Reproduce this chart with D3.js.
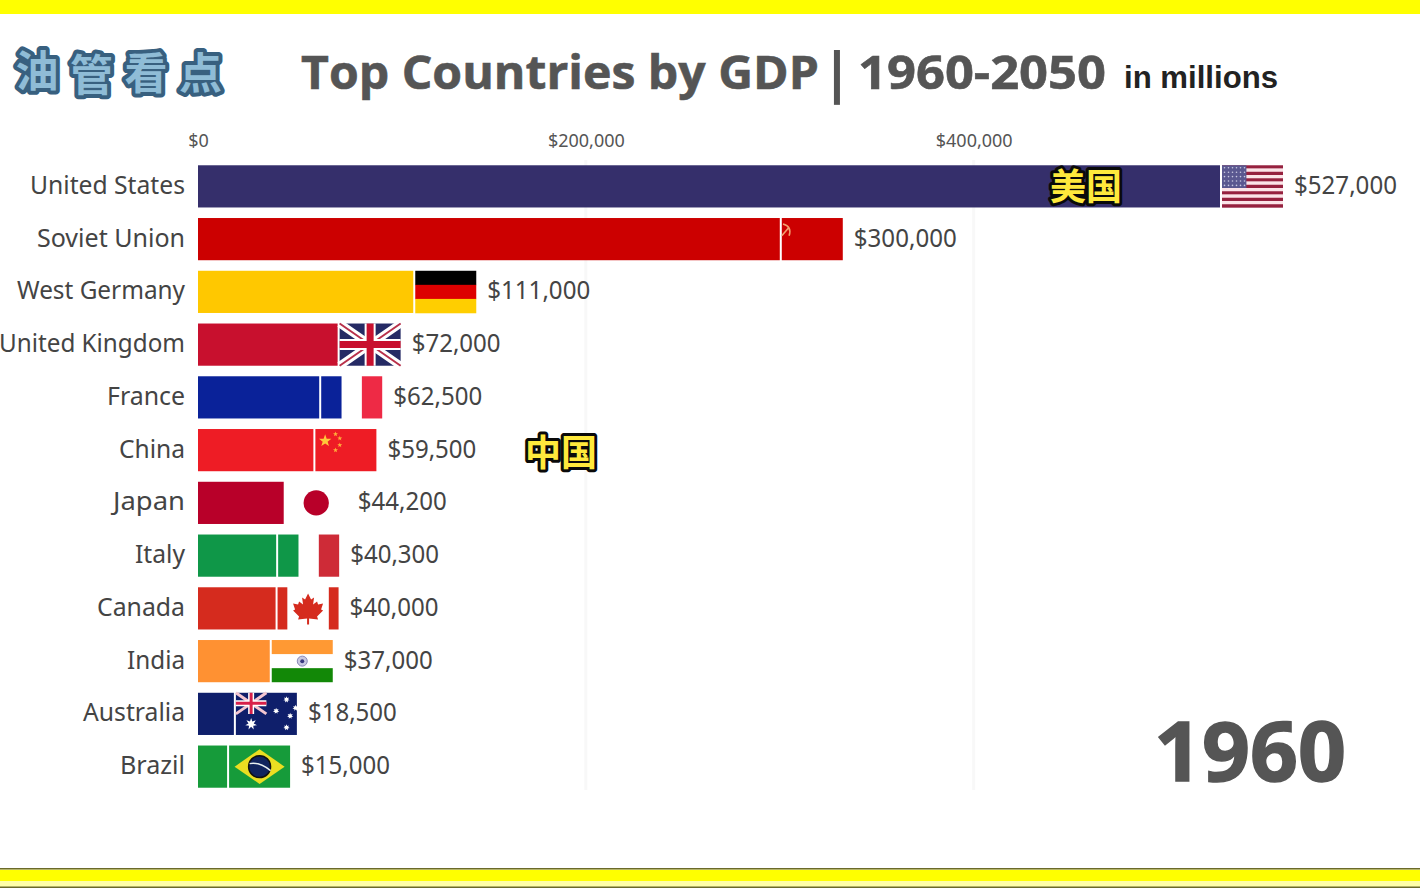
<!DOCTYPE html>
<html><head><meta charset="utf-8">
<script src="https://cdnjs.cloudflare.com/ajax/libs/d3/7.8.5/d3.min.js"></script>
<style>html,body{margin:0;padding:0;background:#fff;overflow:hidden}svg{display:block}</style>
</head><body><svg id="c" width="1420" height="888"></svg>
<script>
const countries = ["United States","Soviet Union","West Germany","United Kingdom","France","China","Japan","Italy","Canada","India","Australia","Brazil"];
const gdp = [527000,300000,111000,72000,62500,59500,44200,40300,40000,37000,18500,15000];
const barColors = ["#352f6b","#cc0000","#ffc800","#c8102e","#0a2299","#ee1c25","#b80029","#0f9748","#d52b1e","#ff9132","#0f1f6b","#169b3a"];
const flagKeys = ["us","su","de","uk","fr","cn","jp","it","ca","in","au","br"];
const tickValues = [0,200000,400000];
const titleParts = [{text:"Top Countries by GDP",x:301,w:518},{text:"1960-2050",x:858,w:248}];
const titleBar = "|";
const unitText = "in millions";
const yearText = "1960";
const watermark = ["油","管","看","点"];
const notes = [{text:"美国",x:1086,y:187},{text:"中国",x:561,y:453}];

const svg = d3.select("#c");
const x = d3.scaleLinear().domain([0,527000]).range([198,1220]);
const y = d3.scaleBand().domain(countries).range([160,793]).paddingInner(0.2).paddingOuter(0.1);
const FW = 61, GAP = 2;
const latin = "'Open Sans','Noto Sans',sans-serif";
const body = "'Noto Sans',sans-serif";

// frame bands
svg.append("rect").attr("x",0).attr("y",0).attr("width",1420).attr("height",14).attr("fill","#ffff00");
svg.append("rect").attr("x",0).attr("y",868).attr("width",1420).attr("height",20).attr("fill","#ffffa8");
svg.append("rect").attr("x",0).attr("y",870).attr("width",1420).attr("height",11).attr("fill","#ffff00");
svg.append("rect").attr("x",0).attr("y",868).attr("width",1420).attr("height",1.5).attr("fill","#6b6a2a");
svg.append("rect").attr("x",0).attr("y",886.5).attr("width",1420).attr("height",1.5).attr("fill","#6b6a2a");

// grid and axis
const grid = svg.append("g");
grid.selectAll("line").data(tickValues.slice(1)).join("line")
  .attr("x1",d=>x(d)).attr("x2",d=>x(d)).attr("y1",160).attr("y2",790)
  .attr("stroke","#f8f8f8").attr("stroke-width",3);
const axis = d3.axisTop(x).tickValues(tickValues).tickSize(0).tickFormat(d=>"$"+d3.format(",")(d));
const ax = svg.append("g").attr("transform","translate(0,150)").call(axis);
ax.select(".domain").remove();
ax.selectAll("text").attr("font-family",body).attr("font-size",18).attr("fill","#555").attr("dy",0);

// title
svg.append("g").selectAll("text").data(titleParts).join("text")
  .attr("x",d=>d.x).attr("y",89).attr("font-family",latin).attr("font-weight",700)
  .attr("font-size",47).attr("fill","#555").attr("stroke","#555").attr("stroke-width",0.6)
  .attr("textLength",d=>d.w).attr("lengthAdjust","spacingAndGlyphs").text(d=>d.text);
svg.append("text").attr("x",837).attr("y",92).attr("text-anchor","middle").attr("font-family",latin).attr("font-weight",700)
  .attr("font-size",56).attr("fill","#555").text(titleBar);
svg.append("text").attr("x",1124).attr("y",88).attr("font-family","'Liberation Sans',Arial,sans-serif").attr("font-weight",700)
  .attr("font-size",31).attr("fill","#222").attr("textLength",154).attr("lengthAdjust","spacingAndGlyphs").text(unitText);
svg.append("text").attr("x",1154).attr("y",781).attr("font-family",latin).attr("font-weight",700)
  .attr("font-size",82).attr("fill","#555").attr("stroke","#555").attr("stroke-width",1.5)
  .attr("textLength",192).attr("lengthAdjust","spacingAndGlyphs").text(yearText);

// watermark
svg.append("g").selectAll("text").data(watermark).join("text")
  .attr("x",(d,i)=>37+i*54.5).attr("y",(d,i)=>89+[-2,2,0,0][i]).attr("text-anchor","middle")
  .attr("font-family","'Noto Sans CJK SC'").attr("font-weight",700).attr("font-size",43)
  .attr("fill","#8fbcd6").attr("stroke","#38607f").attr("stroke-width",8).attr("stroke-linejoin","round")
  .attr("paint-order","stroke").text(d=>d);

// bars
const rows = svg.append("g").selectAll("g").data(countries).join("g")
  .attr("transform",c=>`translate(0,${y(c)})`);
const H = y.bandwidth();
rows.append("rect").attr("x",x(0)).attr("y",0).attr("height",H)
  .attr("width",(c,i)=>x(gdp[i])-x(0)).attr("fill",(c,i)=>barColors[i]);
rows.append("text").attr("x",185).attr("y",H/2-1).attr("dy","0.34em").attr("text-anchor","end")
  .attr("font-family",body).attr("font-size",25).attr("fill","#444")
  .attr("textLength",(c,i)=>[155,148,168,186,78,66,72,50,88,58,102,65][i]).attr("lengthAdjust","spacingAndGlyphs").text(c=>c);
rows.append("text").attr("x",(c,i)=>x(gdp[i])+GAP+FW+11).attr("y",H/2-1).attr("dy","0.34em")
  .attr("font-family",body).attr("font-size",25).attr("fill","#444")
  .attr("textLength",(c,i)=>gdp[i]>=100000?103:89).attr("lengthAdjust","spacingAndGlyphs")
  .text((c,i)=>"$"+d3.format(",")(gdp[i]));

function star(cx,cy,r,n=5,inner=0.4,rot=-Math.PI/2){
  return d3.range(n*2).map(k=>{const a=rot+k*Math.PI/n,q=k%2?r*inner:r;return [cx+q*Math.cos(a),cy+q*Math.sin(a)].join(",")}).join(" ");
}
const painters = {
  us(g,W,Ht){
    d3.range(13).forEach(k=>g.append("rect").attr("y",k*Ht/13).attr("width",W).attr("height",Ht/13+.2).attr("fill",k%2?"#fbe4e8":"#96213f"));
    g.append("rect").attr("width",W*.4).attr("height",Ht*7/13).attr("fill","#5a5890");
    d3.range(5).forEach(r=>d3.range(6).forEach(c=>g.append("circle").attr("cx",2.5+c*4).attr("cy",2.5+r*4.4).attr("r",.8).attr("fill","#c9c9e0")));
  },
  su(g,W,Ht){
    g.append("rect").attr("width",W).attr("height",Ht).attr("fill","#cc0000");
    g.append("path").attr("d",`M${W*.02} ${Ht*.14}Q${W*.17} ${Ht*.2} ${W*.12} ${Ht*.42}M${W*.0} ${Ht*.42}L${W*.12} ${Ht*.22}`).attr("stroke","#f2a070").attr("stroke-width",1.6).attr("fill","none");
  },
  de(g,W,Ht){
    ["#000","#dd0000","#ffce00"].forEach((c,k)=>g.append("rect").attr("y",k*Ht/3).attr("width",W).attr("height",Ht/3+.3).attr("fill",c));
  },
  uk(g,W,Ht){
    g.append("rect").attr("width",W).attr("height",Ht).attr("fill","#252a64");
    g.append("path").attr("d",`M0 0L${W} ${Ht}M${W} 0L0 ${Ht}`).attr("stroke","#fff").attr("stroke-width",8);
    g.append("path").attr("d",`M0 0L${W} ${Ht}M${W} 0L0 ${Ht}`).attr("stroke","#b8304a").attr("stroke-width",2);
    g.append("path").attr("d",`M${W/2} 0V${Ht}M0 ${Ht/2}H${W}`).attr("stroke","#fff").attr("stroke-width",11);
    g.append("path").attr("d",`M${W/2} 0V${Ht}M0 ${Ht/2}H${W}`).attr("stroke","#c8102e").attr("stroke-width",7);
  },
  fr(g,W,Ht){
    g.append("rect").attr("width",W/3).attr("height",Ht).attr("fill","#0a2299");
    g.append("rect").attr("x",W*2/3).attr("width",W/3).attr("height",Ht).attr("fill","#ee2a45");
  },
  cn(g,W,Ht){
    g.append("rect").attr("width",W).attr("height",Ht).attr("fill","#ee1c25");
    g.append("polygon").attr("points",star(W*.16,Ht*.28,6.5)).attr("fill","#ffc83a");
    [[.33,.12],[.4,.22],[.4,.38],[.33,.5]].forEach(p=>g.append("polygon").attr("points",star(W*p[0],Ht*p[1],2.6)).attr("fill","#ffb03a"));
  },
  jp(g,W,Ht){
    g.append("circle").attr("cx",W/2).attr("cy",Ht/2).attr("r",Ht*.3).attr("fill","#b80029");
  },
  it(g,W,Ht){
    g.append("rect").attr("width",W/3).attr("height",Ht).attr("fill","#0f9748");
    g.append("rect").attr("x",W*2/3).attr("width",W/3).attr("height",Ht).attr("fill","#ce2b37");
  },
  ca(g,W,Ht){
    g.append("rect").attr("width",W*.16).attr("height",Ht).attr("fill","#d52b1e");
    g.append("rect").attr("x",W*.84).attr("width",W*.16).attr("height",Ht).attr("fill","#d52b1e");
    const pts=[[0,-15],[3,-9],[6,-11],[5,-4],[9,-7],[10,-4],[15,-5],[13,1],[15,2],[9,8],[10,11],[1,10],[1,16],[-1,16],[-1,10],[-10,11],[-9,8],[-15,2],[-13,1],[-15,-5],[-10,-4],[-9,-7],[-5,-4],[-6,-11],[-3,-9]];
    g.append("polygon").attr("transform",`translate(${W/2},${Ht/2})`).attr("points",pts.map(p=>p.join(",")).join(" ")).attr("fill","#d52b1e");
  },
  in(g,W,Ht){
    g.append("rect").attr("width",W).attr("height",Ht/3).attr("fill","#ff9933");
    g.append("rect").attr("y",Ht*2/3).attr("width",W).attr("height",Ht/3).attr("fill","#128807");
    g.append("circle").attr("cx",W/2).attr("cy",Ht/2).attr("r",5).attr("fill","#c8c8e0").attr("stroke","#8a8ab8").attr("stroke-width",1);
    g.append("circle").attr("cx",W/2).attr("cy",Ht/2).attr("r",2).attr("fill","#3a3a80");
  },
  au(g,W,Ht){
    g.append("rect").attr("width",W).attr("height",Ht).attr("fill","#0f1f6b");
    const q=g.append("g");
    q.append("path").attr("d",`M0 0L${W/2} ${Ht/2}M${W/2} 0L0 ${Ht/2}`).attr("stroke","#f4c6d0").attr("stroke-width",3);
    q.append("path").attr("d",`M${W/4} 0V${Ht/2}M0 ${Ht/4}H${W/2}`).attr("stroke","#fff").attr("stroke-width",6);
    q.append("path").attr("d",`M${W/4} 0V${Ht/2}M0 ${Ht/4}H${W/2}`).attr("stroke","#d8204a").attr("stroke-width",3);
    g.append("polygon").attr("points",star(W*.25,Ht*.74,6,7,.45)).attr("fill","#fff");
    [[.83,.16],[.66,.43],[.89,.55],[.83,.82],[.98,.36]].forEach(p=>g.append("polygon").attr("points",star(W*p[0],Ht*p[1],3.2,7,.5)).attr("fill","#fff"));
  },
  br(g,W,Ht){
    g.append("rect").attr("width",W).attr("height",Ht).attr("fill","#169b3a");
    g.append("polygon").attr("points",[[W*.09,Ht/2],[W/2,Ht*.09],[W*.91,Ht/2],[W/2,Ht*.91]].map(p=>p.join(",")).join(" ")).attr("fill","#eade22");
    g.append("circle").attr("cx",W/2).attr("cy",Ht/2).attr("r",Ht*.26).attr("fill","#10245e").attr("stroke","#111").attr("stroke-width",1.5);
    g.append("path").attr("d",`M${W/2-10} ${Ht/2-3}Q${W/2} ${Ht/2-5} ${W/2+11} ${Ht/2+4}`).attr("stroke","#e8f0f0").attr("stroke-width",1.5).attr("fill","none");
  }
};
rows.each(function(c,i){
  const g=d3.select(this).append("g").attr("transform",`translate(${x(gdp[i])+GAP},0)`);
  painters[flagKeys[i]](g,FW,H);
});

// captions over the chart
svg.append("g").selectAll("text").data(notes).join("text")
  .attr("x",d=>d.x).attr("y",d=>d.y).attr("dy","0.36em").attr("text-anchor","middle")
  .attr("font-family","'Noto Sans CJK SC'").attr("font-weight",700).attr("font-size",36)
  .attr("fill","#ffe93c").attr("stroke","#0a0a0a").attr("stroke-width",6).attr("stroke-linejoin","round")
  .attr("paint-order","stroke").text(d=>d.text);
</script></body></html>
